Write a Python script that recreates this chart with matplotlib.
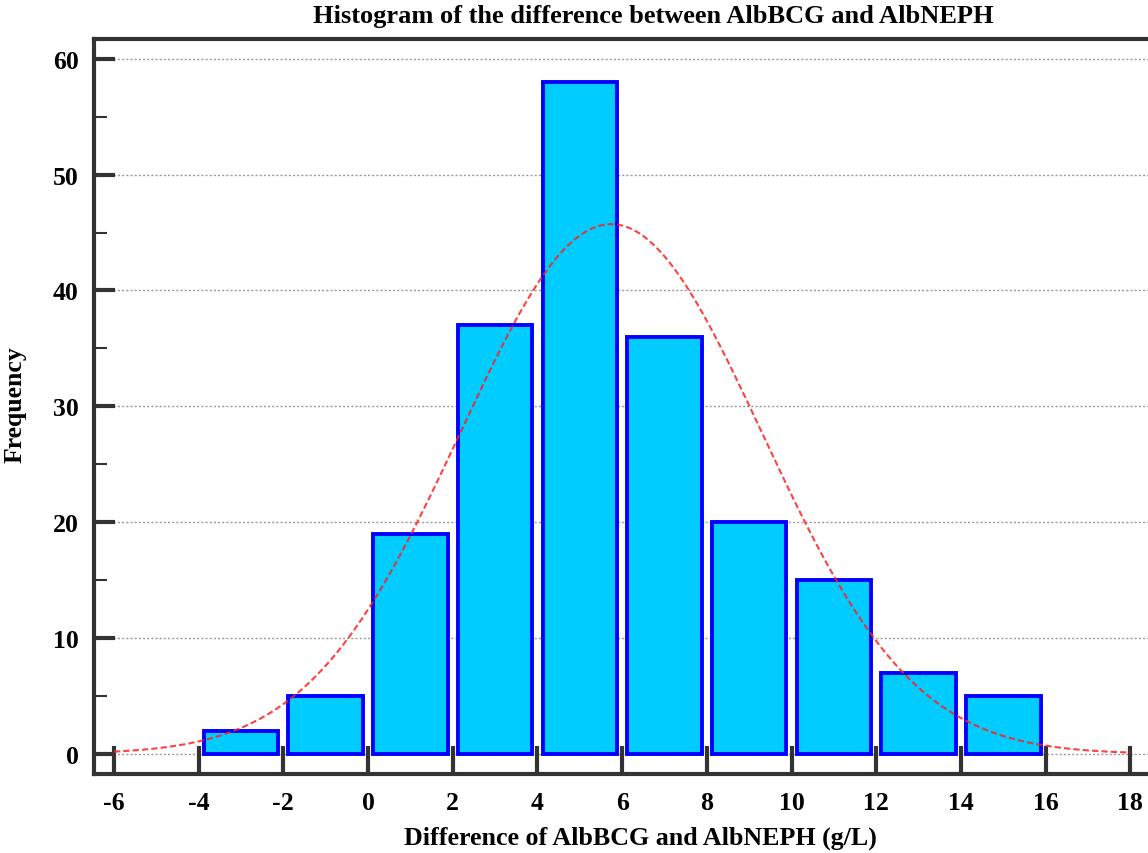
import numpy as np
import matplotlib
matplotlib.use("Agg")
import matplotlib.pyplot as plt

# Data
bin_lefts = [-4, -2, 0, 2, 4, 6, 8, 10, 12, 14]
bin_width = 2
counts = [2, 5, 19, 37, 58, 36, 20, 15, 7, 5]
fit_mean = 5.74
fit_sd = 3.56
x_ticks = [-6, -4, -2, 0, 2, 4, 6, 8, 10, 12, 14, 16, 18]
y_ticks = [0, 10, 20, 30, 40, 50, 60]

title = "Histogram of the difference between AlbBCG and AlbNEPH"
xlabel = "Difference of AlbBCG and AlbNEPH (g/L)"
ylabel = "Frequency"

plt.rcParams['font.family'] = ['Liberation Serif', 'DejaVu Serif']
plt.rcParams['font.weight'] = 'bold'

fig = plt.figure(figsize=(11.48, 8.54), dpi=100)
W, H = 1148, 854
ax_left, ax_right, ax_top, ax_bottom = 94, 1160, 40, 775
ax = fig.add_axes([ax_left / W, 1 - ax_bottom / H, (ax_right - ax_left) / W, (ax_bottom - ax_top) / H])

centers = np.array(bin_lefts) + bin_width / 2
ax.bar(centers, counts, width=bin_width * 0.88, color='#00CCFF', edgecolor='#0000FF',
       linewidth=2.8, zorder=3)

xs = np.linspace(-6, 18, 400)
total = sum(counts)
ys = total * bin_width / (fit_sd * np.sqrt(2 * np.pi)) * np.exp(-0.5 * ((xs - fit_mean) / fit_sd) ** 2)
ax.plot(xs, ys, color='#FF2020', lw=1.5, dashes=(3, 1.5), alpha=0.85, zorder=4)

ax.set_xlim(-6.47, 18.7)
ax.set_ylim(-1.73, 61.7)
ax.set_xticks(x_ticks)
ax.set_xticklabels([str(t) for t in x_ticks])
ax.set_yticks(y_ticks)
ax.set_yticks([5, 15, 25, 35, 45, 55], minor=True)

for t in y_ticks:
    ax.axhline(t, color='#999999', lw=1.0, ls=(0, (1.5, 1.5)), zorder=1, xmin=0.01)

ax.tick_params(axis='x', direction='in', length=20, width=3, color='#333333',
               labelsize=18.5, pad=12)
ax.tick_params(axis='y', which='major', direction='in', length=15, width=3, color='#333333',
               labelsize=18.5, pad=11)
ax.tick_params(axis='y', which='minor', direction='in', length=9, width=1.5, color='#333333')

for s in ['left', 'bottom', 'top']:
    ax.spines[s].set_linewidth(3)
    ax.spines[s].set_color('#333333')
ax.spines['right'].set_visible(False)

fig.text(653 / W, 1 - 16 / H, title, fontsize=19, fontweight='bold', ha='center', va='center')
fig.text(640 / W, 1 - 838 / H, xlabel, fontsize=18.7, fontweight='bold', ha='center', va='center')
fig.text(15 / W, 1 - 405 / H, ylabel, fontsize=18.5, fontweight='bold', ha='center', va='center',
         rotation=90)

fig.savefig("out.png", dpi=100)
